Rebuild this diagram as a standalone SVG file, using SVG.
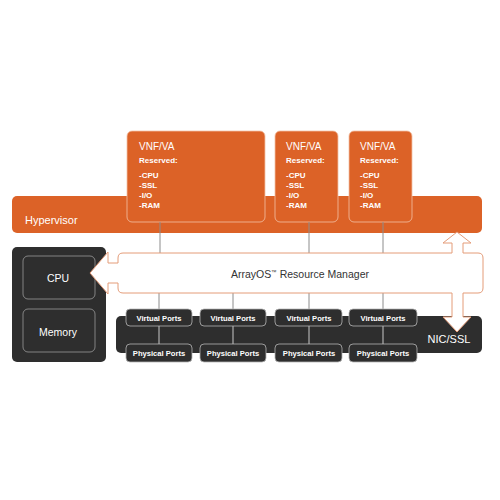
<svg xmlns="http://www.w3.org/2000/svg" width="500" height="500" viewBox="0 0 500 500">
<style>
.or{fill:#dc6227}
.vnf{fill:#dc6227;stroke:#f2c2a6;stroke-width:0.8}
.dk{fill:#2e2e2e}
.ib{fill:#2e2e2e;stroke:#9a9a9a;stroke-width:0.8}
.pb{fill:#2e2e2e;stroke:#b5b5b5;stroke-width:0.8}
.t{font-family:"Liberation Sans",Arial,sans-serif;fill:#fff}
.tb{font-family:"Liberation Sans",Arial,sans-serif;fill:#fff;font-weight:bold}
.ln{stroke:#8c8c8c;stroke-width:1;fill:none}
.lnl{stroke:#c8c8c8;stroke-width:1;fill:none}
</style>
<rect width="500" height="500" fill="#fff"/>
<g id="hypervisor">
<rect class="or" x="12" y="196" width="470" height="37" rx="5"/>
<text class="t" x="25" y="224" font-size="11">Hypervisor</text>
</g>
<g id="vnf1">
<rect class="vnf" x="127" y="131" width="138" height="91" rx="5"/>
<text class="t" x="139" y="150" font-size="10">VNF/VA</text>
<text class="tb" x="139" y="163" font-size="8">Reserved:</text>
<text class="tb" x="139" y="178" font-size="8">-CPU</text>
<text class="tb" x="139" y="188" font-size="8">-SSL</text>
<text class="tb" x="139" y="198" font-size="8">-I/O</text>
<text class="tb" x="139" y="208" font-size="8">-RAM</text>
</g>
<g id="vnf2">
<rect class="vnf" x="275" y="131" width="63" height="91" rx="5"/>
<text class="t" x="286" y="150" font-size="10">VNF/VA</text>
<text class="tb" x="286" y="163" font-size="8">Reserved:</text>
<text class="tb" x="286" y="178" font-size="8">-CPU</text>
<text class="tb" x="286" y="188" font-size="8">-SSL</text>
<text class="tb" x="286" y="198" font-size="8">-I/O</text>
<text class="tb" x="286" y="208" font-size="8">-RAM</text>
</g>
<g id="vnf3">
<rect class="vnf" x="349" y="131" width="63" height="91" rx="5"/>
<text class="t" x="360" y="150" font-size="10">VNF/VA</text>
<text class="tb" x="360" y="163" font-size="8">Reserved:</text>
<text class="tb" x="360" y="178" font-size="8">-CPU</text>
<text class="tb" x="360" y="188" font-size="8">-SSL</text>
<text class="tb" x="360" y="198" font-size="8">-I/O</text>
<text class="tb" x="360" y="208" font-size="8">-RAM</text>
</g>
<g id="host">
<rect class="dk" x="12" y="247" width="94" height="115" rx="5"/>
</g>
<g id="cpu">
<rect class="ib" x="23" y="256" width="72" height="43" rx="5"/>
<text class="t" x="58" y="282" font-size="10.5" text-anchor="middle">CPU</text>
</g>
<g id="memory">
<rect class="ib" x="23" y="309" width="72" height="43" rx="5"/>
<text class="t" x="58" y="336" font-size="10.5" text-anchor="middle">Memory</text>
</g>
<g id="nic">
<rect class="dk" x="116" y="316" width="366" height="37" rx="5"/>
<text class="t" x="449" y="343" font-size="11" text-anchor="middle">NIC/SSL</text>
</g>
<g id="connectors">
<line class="ln" x1="160" y1="222" x2="160" y2="253"/>
<line class="ln" x1="309" y1="222" x2="309" y2="253"/>
<line class="ln" x1="383" y1="222" x2="383" y2="253"/>
<line class="ln" x1="159" y1="293" x2="159" y2="309"/>
<line class="ln" x1="233" y1="293" x2="233" y2="309"/>
<line class="ln" x1="309" y1="293" x2="309" y2="309"/>
<line class="ln" x1="383" y1="293" x2="383" y2="309"/>
<line class="lnl" x1="159" y1="326" x2="159" y2="344"/>
<line class="lnl" x1="233" y1="326" x2="233" y2="344"/>
<line class="lnl" x1="309" y1="326" x2="309" y2="344"/>
<line class="lnl" x1="383" y1="326" x2="383" y2="344"/>
</g>
<g id="resource-manager">
<path d="M90 273 L108 252 L108 263 L118 263 L118 258 Q118 253 123 253 L452 253 L452 243 L443 243 L457 232 L471 243 L463 243 L463 253 L478 253 Q483 253 483 258 L483 288 Q483 293 478 293 L463 293 L463 317 L471 317 L457 332 L443 317 L452 317 L452 293 L123 293 Q118 293 118 288 L118 283 L108 283 L108 294 Z" fill="#fff" stroke="#e49c79" stroke-width="1"/>
<text class="t" x="300" y="278" font-size="10.5" text-anchor="middle" style="fill:#333">ArrayOS<tspan font-size="5.5" baseline-shift="4">™</tspan> Resource Manager</text>
</g>
<g id="vp1"><rect class="pb" x="126" y="309" width="66" height="17" rx="4"/><text class="tb" x="159" y="321" font-size="7.6" text-anchor="middle">Virtual Ports</text></g>
<g id="vp2"><rect class="pb" x="200" y="309" width="66" height="17" rx="4"/><text class="tb" x="233" y="321" font-size="7.6" text-anchor="middle">Virtual Ports</text></g>
<g id="vp3"><rect class="pb" x="275" y="309" width="67" height="17" rx="4"/><text class="tb" x="309" y="321" font-size="7.6" text-anchor="middle">Virtual Ports</text></g>
<g id="vp4"><rect class="pb" x="349" y="309" width="68" height="17" rx="4"/><text class="tb" x="383" y="321" font-size="7.6" text-anchor="middle">Virtual Ports</text></g>
<g id="pp1"><rect class="pb" x="126" y="344" width="66" height="18" rx="4"/><text class="tb" x="159" y="356" font-size="7.6" text-anchor="middle">Physical Ports</text></g>
<g id="pp2"><rect class="pb" x="200" y="344" width="66" height="18" rx="4"/><text class="tb" x="233" y="356" font-size="7.6" text-anchor="middle">Physical Ports</text></g>
<g id="pp3"><rect class="pb" x="275" y="344" width="67" height="18" rx="4"/><text class="tb" x="309" y="356" font-size="7.6" text-anchor="middle">Physical Ports</text></g>
<g id="pp4"><rect class="pb" x="349" y="344" width="68" height="18" rx="4"/><text class="tb" x="383" y="356" font-size="7.6" text-anchor="middle">Physical Ports</text></g>
</svg>
